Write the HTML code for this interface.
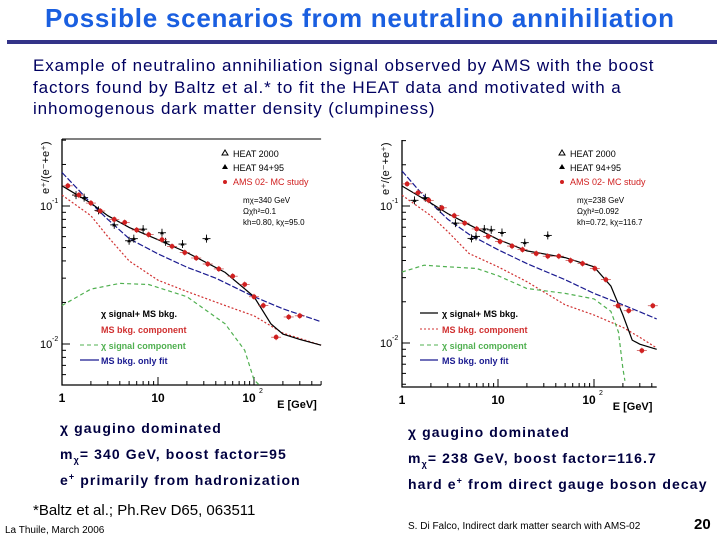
<!DOCTYPE html>
<html><head><meta charset="utf-8"><style>
body{margin:0;width:720px;height:540px;background:#fff;position:relative;overflow:hidden;font-family:"Liberation Sans",sans-serif}
.t{position:absolute;white-space:nowrap}
.cap div{height:26px;line-height:26px}
.cap sub,.cap sup{line-height:0;font-size:9px}
</style></head><body>
<div class="t" style="left:45px;top:3px;font-size:26px;font-weight:bold;color:#1a5fe0;letter-spacing:0.75px">Possible scenarios from neutralino annihiliation</div>
<div style="position:absolute;left:7px;top:40px;width:710px;height:4px;background:#333388"></div>
<div class="t" style="left:33px;top:55px;font-size:17px;line-height:21.5px;letter-spacing:0.9px;color:#000060">Example of neutralino annihiliation signal observed by AMS with the boost<br>factors found by Baltz et al.* to fit the HEAT data and motivated with a<br>inhomogenous dark matter density (clumpiness)</div>

<svg id="chart" width="720" height="540" style="position:absolute;left:0;top:0" font-family="Liberation Sans, sans-serif"></svg>

<div class="t cap" style="left:60px;top:415px;font-size:14px;font-weight:bold;letter-spacing:1.1px;color:#000040"><div>χ gaugino dominated</div><div>m<sub>χ</sub>= 340 GeV, boost factor=95</div><div>e<sup>+</sup> primarily from hadronization</div></div>
<div class="t cap" style="left:408px;top:419px;font-size:14px;font-weight:bold;letter-spacing:1.1px;color:#000040"><div>χ gaugino dominated</div><div>m<sub>χ</sub>= 238 GeV, boost factor=116.7</div><div>hard e<sup>+</sup> from direct gauge boson decay</div></div>
<div class="t" style="left:33px;top:502px;font-size:15px;color:#000">*Baltz et al.; Ph.Rev D65, 063511</div>
<div class="t" style="left:5px;top:525px;font-size:10px;color:#000">La Thuile, March 2006</div>
<div class="t" style="left:408px;top:521px;font-size:10px;color:#000">S. Di Falco, Indirect dark matter search with AMS-02</div>
<div class="t" style="left:694px;top:516px;font-size:15px;font-weight:bold;color:#000">20</div>

<script>
// Left chart data (E in GeV, ratio)
const L_amsE=[1.15,1.5,2,2.5,3.5,4.5,6,8,11,14,19,25,33,43,60,80,100,125,170,230,300];
const L_amsV=[0.14,0.12,0.105,0.092,0.08,0.076,0.067,0.062,0.057,0.051,0.046,0.042,0.038,0.035,0.031,0.027,0.022,0.019,0.0112,0.0157,0.016];
const L_heatE=[1.4,1.7,2.4,3.5,5,5.6,7,11,12,18,32];
const L_heatV=[0.12,0.115,0.093,0.073,0.056,0.058,0.068,0.064,0.055,0.053,0.058];
const L_totE=[1,2,3,5,10,20,50,100,150,200,300,500];
const L_totV=[0.14,0.105,0.085,0.07,0.057,0.046,0.033,0.022,0.014,0.0118,0.0108,0.0098];
const L_bluE=[1,1.5,2,3,5,10,20,40,100,200,500];
const L_bluV=[0.175,0.13,0.105,0.08,0.058,0.045,0.036,0.03,0.022,0.018,0.0145];
const L_redE=[1,2,3,5,10,20,50,100,200,500];
const L_redV=[0.12,0.085,0.06,0.04,0.029,0.024,0.019,0.016,0.012,0.0098];
const L_grnE=[1,2,4,8,20,50,80,100,115];
const L_grnV=[0.019,0.025,0.0275,0.027,0.022,0.014,0.009,0.0055,0.005];
// Right chart data
const R_amsE=[1.13,1.47,1.9,2.6,3.5,4.5,6,7.9,10.5,14,18,25,33,43,57,76,102,133,178,230,315,410];
const R_amsV=[0.145,0.125,0.11,0.097,0.085,0.075,0.068,0.06,0.055,0.051,0.048,0.045,0.043,0.043,0.04,0.038,0.035,0.029,0.0187,0.0172,0.0088,0.0187];
const R_heatE=[1.35,1.75,2.5,3.6,5.3,5.9,7.2,8.5,11,19,33];
const R_heatV=[0.11,0.115,0.095,0.075,0.058,0.06,0.068,0.067,0.064,0.054,0.061];
const R_totE=[1,2,3,5,10,20,50,100,150,200,250,300,450];
const R_totV=[0.14,0.105,0.088,0.073,0.057,0.047,0.042,0.036,0.026,0.016,0.0105,0.0098,0.009];
const R_bluE=[1,1.5,2,3,5,10,20,50,100,200,450];
const R_bluV=[0.18,0.13,0.105,0.08,0.062,0.048,0.038,0.029,0.023,0.019,0.015];
const R_redE=[1,2,3,5,10,20,50,100,200,300,450];
const R_redV=[0.12,0.085,0.065,0.045,0.036,0.028,0.019,0.016,0.013,0.011,0.0092];
const R_grnE=[1,1.7,3,6,10,20,50,100,150,180,200,210];
const R_grnV=[0.033,0.037,0.036,0.035,0.031,0.025,0.023,0.021,0.017,0.012,0.0065,0.0053];
const xTicks=["1","10"];

const svg=document.getElementById('chart');
const NS='http://www.w3.org/2000/svg';
function el(t,a,p){const e=document.createElementNS(NS,t);for(const k in a)e.setAttribute(k,a[k]);(p||svg).appendChild(e);return e;}
function txt(x,y,s,a,p){const e=el('text',Object.assign({x:x,y:y},a),p);e.textContent=s;return e;}

function chart(cfg){
  const g=el('g',{});
  
  
  const X=e=>cfg.x0+Math.log10(e)*cfg.dx;
  const Y=v=>cfg.y1-(Math.log10(v)+1)*cfg.dy;
  const xr=cfg.xmax, yb=cfg.yb, yt=cfg.yt;
  const ax=el('path',{d:`M${cfg.x0},${yt}V${yb}H${X(xr)}`,stroke:'#000',fill:'none','stroke-width':1.3},g);
  
  
  if(cfg.top){el('line',{x1:cfg.x0,y1:yt,x2:X(xr),y2:yt,stroke:'#000','stroke-width':1},g);}
  for(let d=0;d<3;d++)for(let m=1;m<10;m++){const e=m*Math.pow(10,d);if(e>xr)break;const x=X(e);
    el('line',{x1:x,y1:yb,x2:x,y2:yb-(m==1?8:4),stroke:'#000','stroke-width':1},g);}
  for(let d=-3;d<0;d++)for(let m=1;m<10;m++){const v=m*Math.pow(10,d);const y=Y(v);if(y>yb||y<yt)continue;
    el('line',{x1:cfg.x0,y1:y,x2:cfg.x0+(m==1?8:4),y2:y,stroke:'#000','stroke-width':1},g);}
  txt(cfg.x0,yb+17,xTicks[0],{'font-size':12,'text-anchor':'middle','font-weight':'bold'},g);
  txt(X(10),yb+17,xTicks[1],{'font-size':12,'text-anchor':'middle','font-weight':'bold'},g);
  txt(X(100)-5,yb+17,'10',{'font-size':12,'text-anchor':'middle','font-weight':'bold'},g);
  txt(X(100)+5,yb+8,'2',{'font-size':7},g);
  txt(cfg.x0-22,Y(0.1)+4,'10',{'font-size':11},g);txt(cfg.x0-10,Y(0.1)-3,'-1',{'font-size':7},g);
  txt(cfg.x0-22,Y(0.01)+4,'10',{'font-size':11},g);txt(cfg.x0-10,Y(0.01)-3,'-2',{'font-size':7},g);
  const xl=txt(X(xr)-44,yb+23,'E [GeV]',{'font-size':11,'font-weight':'bold'},g);
  
  
  const yl=txt(0,0,'e⁺/(e⁻+e⁺)',{'font-size':11,transform:`translate(${cfg.x0-13},${yt+55}) rotate(-90)`},g);
  
  
  function line(E,V,col,dash,name){
    let d='';E.forEach((e,i)=>{d+=(i?'L':'M')+X(e).toFixed(1)+','+Y(V[i]).toFixed(1);});
    const p=el('path',{d:d,stroke:col,fill:'none','stroke-width':1.2,'stroke-dasharray':dash},g);
    
    
  }
  line(cfg.redE,cfg.redV,'#d03030','2,2','ms-bkg-component-line');
  line(cfg.grnE,cfg.grnV,'#50b050','4,3','signal-component-line');
  line(cfg.bluE,cfg.bluV,'#1a1a90','6,2','ms-bkg-only-fit-line');
  line(cfg.totE,cfg.totV,'#000','none','signal-plus-bkg-line');
  cfg.heatE.forEach((e,i)=>{const x=X(e),y=Y(cfg.heatV[i]);
    el('line',{x1:x-4,y1:y,x2:x+4,y2:y,stroke:'#000','stroke-width':0.9},g);
    el('line',{x1:x,y1:y-4,x2:x,y2:y+4,stroke:'#000','stroke-width':0.9},g);
    const p=el('path',{d:`M${x-2},${y+1.5}L${x+2},${y+1.5}L${x},${y-2}Z`,fill:'#000'},g);
    
    });
  cfg.amsE.forEach((e,i)=>{const x=X(e),y=Y(cfg.amsV[i]);
    el('line',{x1:x-5,y1:y,x2:x+5,y2:y,stroke:'#c04040','stroke-width':0.7},g);
    el('line',{x1:x,y1:y-3,x2:x,y2:y+3,stroke:'#c04040','stroke-width':0.7},g);
    const c=el('circle',{cx:x,cy:y,r:2.4,fill:'#d02020'},g);
    
    });
  const lx=cfg.lgx;
  el('path',{d:`M${lx-3},${155}L${lx+3},${155}L${lx},${150}Z`,fill:'none',stroke:'#000'},g);
  txt(lx+8,157,'HEAT 2000',{'font-size':9},g);
  el('path',{d:`M${lx-3},${169}L${lx+3},${169}L${lx},${164}Z`,fill:'#000'},g);
  txt(lx+8,171,'HEAT 94+95',{'font-size':9},g);
  el('circle',{cx:lx,cy:182,r:2,fill:'#d02020'},g);
  txt(lx+8,185,'AMS 02- MC study',{'font-size':9,fill:'#d02020'},g);
  cfg.params.forEach((s,i)=>txt(cfg.px,203+i*11,s,{'font-size':8},g));
  const ll=cfg.llx;
  if(cfg.llines){
    el('line',{x1:ll-22,y1:313,x2:ll-4,y2:313,stroke:'#000','stroke-width':1.2},g);
    el('line',{x1:ll-22,y1:329,x2:ll-4,y2:329,stroke:'#d03030','stroke-dasharray':'2,2'},g);
    el('line',{x1:ll-22,y1:345,x2:ll-4,y2:345,stroke:'#50b050','stroke-dasharray':'4,3'},g);
    el('line',{x1:ll-22,y1:360,x2:ll-4,y2:360,stroke:'#1a1a90','stroke-width':1.2},g);
  } else {
    el('line',{x1:ll-21,y1:345,x2:ll-2,y2:345,stroke:'#50b050','stroke-dasharray':'4,3'},g);
    el('line',{x1:ll-21,y1:360,x2:ll-2,y2:360,stroke:'#1a1a90','stroke-width':1.2},g);
  }
  txt(ll,317,'χ signal+ MS bkg.',{'font-size':9,'font-weight':'bold'},g);
  txt(ll,333,'MS bkg. component',{'font-size':9,'font-weight':'bold',fill:'#d03030'},g);
  txt(ll,349,'χ signal component',{'font-size':9,'font-weight':'bold',fill:'#50b050'},g);
  txt(ll,364,'MS bkg. only fit',{'font-size':9,'font-weight':'bold',fill:'#1a1a90'},g);
}
chart({name:'left-chart',x0:62,dx:96,y1:206,dy:138,yb:385,yt:139,xmax:500,top:true,
  amsE:L_amsE,amsV:L_amsV,heatE:L_heatE,heatV:L_heatV,totE:L_totE,totV:L_totV,bluE:L_bluE,bluV:L_bluV,redE:L_redE,redV:L_redV,grnE:L_grnE,grnV:L_grnV,
  lgx:225,px:243,params:['mχ=340 GeV','Ωχh²=0.1','kh=0.80, kχ=95.0'],llx:101,llines:false});
chart({name:'right-chart',x0:402,dx:96,y1:206,dy:137,yb:387,yt:140,xmax:450,top:false,
  amsE:R_amsE,amsV:R_amsV,heatE:R_heatE,heatV:R_heatV,totE:R_totE,totV:R_totV,bluE:R_bluE,bluV:R_bluV,redE:R_redE,redV:R_redV,grnE:R_grnE,grnV:R_grnV,
  lgx:562,px:577,params:['mχ=238 GeV','Ωχh²=0.092','kh=0.72, kχ=116.7'],llx:442,llines:true});
</script>
</body></html>
